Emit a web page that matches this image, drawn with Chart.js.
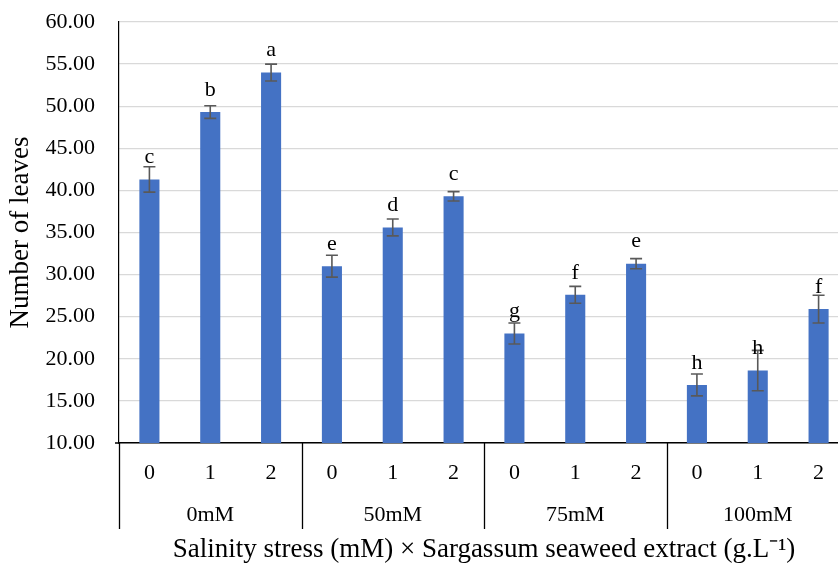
<!DOCTYPE html>
<html>
<head>
<meta charset="utf-8">
<script src="https://cdn.jsdelivr.net/npm/chart.js@4/dist/chart.umd.min.js"></script>
<style>
  html, body { margin: 0; padding: 0; background: #fff; overflow: hidden; }
  #wrap { position: absolute; left: 0; top: 0; width: 850px; height: 563px; }
</style>
</head>
<body>
<div id="wrap"><canvas id="chart" width="850" height="563"></canvas></div>
<script>
// categories
const groups = ['0mM', '50mM', '75mM', '100mM'];
const doses = ['0', '1', '2', '0', '1', '2', '0', '1', '2', '0', '1', '2'];

// series: mean number of leaves, error bar half-length, significance letters
const means  = [41.3, 49.3, 54.0, 31.0, 35.6, 39.3, 23.0, 27.6, 31.3, 16.9, 18.6, 25.9];
const errors = [1.5, 0.75, 1.0, 1.3, 1.0, 0.55, 1.25, 1.0, 0.6, 1.3, 2.4, 1.65];
const letters = ['c', 'b', 'a', 'e', 'd', 'c', 'g', 'f', 'e', 'h', 'h', 'f'];

// y axis ticks
const yMin = 10, yMax = 60, yStep = 5;

const serif = '"Liberation Serif", "Times New Roman", serif';

const overlay = {
    id: 'overlay',
    afterDatasetsDraw(chart) {
        const ctx = chart.ctx;
        const x = chart.scales.x;
        const y = chart.scales.y;
        const meta = chart.getDatasetMeta(0);
        ctx.save();

        // error bars + letters
        meta.data.forEach((bar, i) => {
            const top = y.getPixelForValue(means[i] + errors[i]);
            const bot = y.getPixelForValue(means[i] - errors[i]);
            ctx.strokeStyle = '#595959';
            ctx.lineWidth = 1.6;
            ctx.beginPath();
            ctx.moveTo(bar.x, top); ctx.lineTo(bar.x, bot);
            ctx.moveTo(bar.x - 6, top); ctx.lineTo(bar.x + 6, top);
            ctx.moveTo(bar.x - 6, bot); ctx.lineTo(bar.x + 6, bot);
            ctx.stroke();

            ctx.fillStyle = '#000';
            ctx.font = '22px ' + serif;
            ctx.textAlign = 'center';
            ctx.textBaseline = 'middle';
            ctx.fillText(letters[i], bar.x, bar.y - 22);
        });

        // small stub of the x axis left of the y axis
        ctx.strokeStyle = '#000';
        ctx.lineWidth = 1.5;
        ctx.beginPath();
        ctx.moveTo(x.left - 4, x.top);
        ctx.lineTo(x.left, x.top);
        ctx.stroke();

        // group dividers and group labels under the axis
        const cw = x.width / doses.length;
        ctx.lineWidth = 1.3;
        ctx.beginPath();
        for (let g = 0; g <= groups.length; g++) {
            const px = Math.round(x.left + g * 3 * cw) + 0.5;
            ctx.moveTo(px, x.top);
            ctx.lineTo(px, x.top + 86);
        }
        ctx.stroke();
        ctx.fillStyle = '#000';
        ctx.font = '22px ' + serif;
        ctx.textAlign = 'center';
        ctx.textBaseline = 'middle';
        groups.forEach((g, i) => {
            ctx.fillText(g, x.left + (i * 3 + 1.5) * cw, x.top + 72);
        });
        ctx.restore();
    }
};

new Chart(document.getElementById('chart'), {
    type: 'bar',
    data: {
        labels: doses,
        datasets: [{
            data: means,
            backgroundColor: '#4472C4',
            categoryPercentage: 1,
            barPercentage: 0.33
        }]
    },
    options: {
        responsive: false,
        animation: false,
        layout: { padding: { top: 22, right: 1, left: 0, bottom: 0 } },
        plugins: { legend: { display: false }, tooltip: { enabled: false } },
        scales: {
            x: {
                grid: { display: false },
                border: { display: true, color: '#000', width: 1.5 },
                ticks: { color: '#000', font: { family: serif, size: 22 }, padding: 9, maxRotation: 0 },
                title: {
                    display: true,
                    text: 'Salinity stress (mM) × Sargassum seaweed extract (g.L⁻¹)',
                    color: '#000',
                    font: { family: serif, size: 27, lineHeight: 1.0 },
                    padding: { top: 0, bottom: 0 }
                },
                afterFit(scale) { scale.height = 120; }
            },
            y: {
                min: yMin,
                max: yMax,
                grid: { color: '#d9d9d9', lineWidth: 1.3, drawTicks: false },
                border: { display: true, color: '#000', width: 1.2 },
                ticks: {
                    stepSize: yStep,
                    color: '#000',
                    font: { family: serif, size: 22 },
                    padding: 24,
                    callback: v => v.toFixed(2)
                },
                title: {
                    display: true,
                    text: 'Number of leaves',
                    color: '#000',
                    font: { family: serif, size: 27, lineHeight: 1.1 },
                    padding: { top: 6, bottom: 0 }
                },
                afterFit(scale) {
                    scale.width = 119;
                    scale.paddingTop = 0;
                    scale.paddingBottom = 0;
                }
            }
        }
    },
    plugins: [overlay]
});
</script>
</body>
</html>
